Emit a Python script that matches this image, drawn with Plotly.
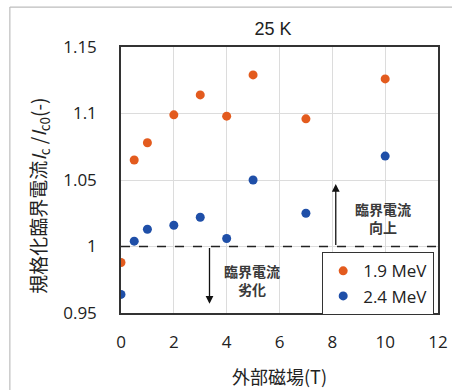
import plotly.graph_objects as go

field_T = [0, 0.5, 1, 2, 3, 4, 5, 7, 10]
ic_19MeV = [0.988, 1.065, 1.078, 1.099, 1.114, 1.098, 1.129, 1.096, 1.126]
ic_24MeV = [0.964, 1.004, 1.013, 1.016, 1.022, 1.006, 1.050, 1.025, 1.068]
series_names = ["1.9 MeV", "2.4 MeV"]
y_ticks = [0.95, 1.0, 1.05, 1.1, 1.15]
y_tick_labels = ["0.95", "1", "1.05", "1.1", "1.15"]
x_ticks = [0, 2, 4, 6, 8, 10, 12]

FONT = "Open Sans, Noto Sans CJK JP, sans-serif"
ORANGE = "#E35B1E"
BLUE = "#1F4FA8"

fig = go.Figure()
fig.add_trace(go.Scatter(x=field_T, y=ic_19MeV, mode="markers", name=series_names[0],
                         marker=dict(color=ORANGE, size=9)))
fig.add_trace(go.Scatter(x=field_T, y=ic_24MeV, mode="markers", name=series_names[1],
                         marker=dict(color=BLUE, size=9)))

# reference line at 1
fig.add_shape(type="line", xref="x", yref="y", x0=0, x1=12, y0=1, y1=1,
              line=dict(color="#222", width=1.5, dash="dash"))

# arrows
fig.add_annotation(x=8.13, y=1.047, ax=8.13, ay=1.0, xref="x", yref="y", axref="x", ayref="y",
                   showarrow=True, arrowhead=2, arrowsize=1.2, arrowwidth=1.3, arrowcolor="#111", text="")
fig.add_annotation(x=3.35, y=0.957, ax=3.35, ay=1.0, xref="x", yref="y", axref="x", ayref="y",
                   showarrow=True, arrowhead=2, arrowsize=1.2, arrowwidth=1.3, arrowcolor="#111", text="")

fig.add_annotation(x=9.9, y=1.0215, xref="x", yref="y", showarrow=False,
                   text="<b>臨界電流</b><br><b>向上</b>", font=dict(family="Noto Sans CJK JP", size=14, color="#3a3a3a"))
fig.add_annotation(x=4.96, y=0.975, xref="x", yref="y", showarrow=False,
                   text="<b>臨界電流</b><br><b>劣化</b>", font=dict(family="Noto Sans CJK JP", size=14, color="#3a3a3a"))

# y-axis title
fig.add_annotation(x=-0.259, y=0.44, xref="paper", yref="paper", showarrow=False, textangle=-90,
                   xanchor="center", yanchor="middle",
                   text="規格化臨界電流<i>I</i><sub>c</sub> /<i>I</i><sub>c0</sub>(-)",
                   font=dict(size=19, family="Noto Sans CJK JP", color="#222"))

# outer chart border (light gray)
fig.add_shape(type="line", xref="paper", yref="paper", x0=-0.3506, x1=-0.3506, y0=-0.3, y1=1.150,
              line=dict(color="#bdbdbd", width=1.2))
fig.add_shape(type="line", xref="paper", yref="paper", x0=-0.3506, x1=1.05, y0=1.150, y1=1.150,
              line=dict(color="#bdbdbd", width=1.2))

fig.update_layout(
    width=452, height=390,
    margin=dict(l=120.5, r=13.5, t=47, b=77, autoexpand=False),
    paper_bgcolor="white", plot_bgcolor="white",
    font=dict(family=FONT, color="#222", size=17),
    title=dict(text="25 K", x=273 / 452, xanchor="center", y=(390 - 29) / 390, yanchor="middle",
               font=dict(family="Liberation Sans, Arial", size=18, color="#222")),
    showlegend=True,
    legend=dict(x=0.634, y=0.229, xanchor="left", yanchor="top",
                bgcolor="white", bordercolor="#333", borderwidth=1.2,
                font=dict(size=17, family=FONT, color="#222"),
                itemsizing="trace", tracegroupgap=0, itemwidth=30),
)
fig.update_xaxes(range=[0, 12], tickvals=x_ticks, showgrid=True, gridcolor="#dcdcdc", gridwidth=1,
                 showline=True, linecolor="#333", linewidth=1.5, mirror=True, zeroline=False,
                 ticks="", tickfont=dict(size=17), ticklabelstandoff=13, automargin=False,
                 ticklabeloverflow="allow",
                 title=dict(text="外部磁場(T)", font=dict(size=18, family="Noto Sans CJK JP"), standoff=19))
fig.update_yaxes(range=[0.95, 1.15], tickvals=y_ticks, ticktext=y_tick_labels, showgrid=True,
                 gridcolor="#dcdcdc", gridwidth=1,
                 showline=True, linecolor="#333", linewidth=1.5, mirror=True, zeroline=False,
                 ticks="", tickfont=dict(size=17), ticklabelstandoff=19, automargin=False,
                 ticklabeloverflow="allow")

fig.write_html("out.html", config={"displayModeBar": False},
               post_script="document.body.style.margin='0';document.body.style.overflow='hidden';")
